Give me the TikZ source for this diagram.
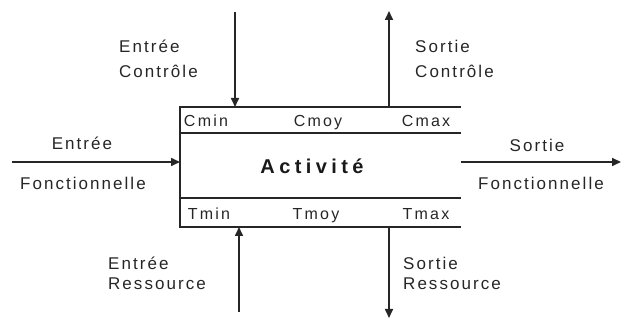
\documentclass[tikz,border=0pt]{standalone}
\usepackage{fontspec}
\setmainfont{Liberation Sans}
\usetikzlibrary{arrows.meta}
\newfontfamily\lblfont{Liberation Sans}[LetterSpace=12]
\newfontfamily\cellfont{Liberation Sans}[LetterSpace=14]
\newfontfamily\actfont{Liberation Sans}[LetterSpace=22]
\begin{document}
\begin{tikzpicture}[x=1pt,y=-1pt,
  lbl/.style={inner sep=0pt,anchor=west,text=black!85,font=\lblfont\fontsize{17}{19}\selectfont},
  clbl/.style={inner sep=0pt,text=black!85,font=\lblfont\fontsize{17}{19}\selectfont},
  cell/.style={inner sep=0pt,anchor=base,text=black!85,font=\cellfont\fontsize{16}{18}\selectfont},
  act/.style={inner sep=0pt,anchor=base,text=black!90,font=\actfont\bfseries\fontsize{20}{22}\selectfont},
  boxline/.style={line width=1.6pt,black!85},
  flow/.style={line width=1.6pt,black!85,-{Triangle[length=9pt,width=8pt]}}]
\useasboundingbox (0,0) rectangle (621,320);
% box
\coordinate (TL) at (180,107);
\coordinate (TR) at (461,107);
\coordinate (BL) at (180,227);
\coordinate (BR) at (461,227);
\coordinate (R1L) at (180,133);
\coordinate (R1R) at (461,133);
\coordinate (R2L) at (180,198);
\coordinate (R2R) at (461,198);
\draw[boxline] (TR) -- (TL) -- (BL) -- (BR);
\draw[boxline] (R1L) -- (R1R);
\draw[boxline] (R2L) -- (R2R);
% cell texts
\node[cell] (cmin) at (206,127) {Cmin};
\node[cell] (cmoy) at (318,127) {Cmoy};
\node[cell] (cmax) at (426,127) {Cmax};
\node[act] (act) at (312,174) {Activité};
\node[cell] (tmin) at (209,220) {Tmin};
\node[cell] (tmoy) at (316,220) {Tmoy};
\node[cell] (tmax) at (426,220) {Tmax};
% arrow endpoints
\coordinate (ecT) at (235,12);
\coordinate (ecB) at (235,107);
\coordinate (scB) at (389,107);
\coordinate (scT) at (389,11);
\coordinate (erB) at (239,312);
\coordinate (erT) at (239,227);
\coordinate (srT) at (389,227);
\coordinate (srB) at (389,318);
\coordinate (efL) at (12,162);
\coordinate (efR) at (180,162);
\coordinate (sfL) at (461,162);
\coordinate (sfR) at (621,162);
\draw[flow] (ecT) -- (ecB);
\draw[flow] (scB) -- (scT);
\draw[flow] (erB) -- (erT);
\draw[flow] (srT) -- (srB);
\draw[flow] (efL) -- (efR);
\draw[flow] (sfL) -- (sfR);
% labels
\node[lbl] (ec1) at (119,46) {Entrée};
\node[lbl] (ec2) at (119,71) {Contrôle};
\node[lbl] (sc1) at (415,46) {Sortie};
\node[lbl] (sc2) at (415,71) {Contrôle};
\node[lbl] (er1) at (108,263) {Entrée};
\node[lbl] (er2) at (108,284) {Ressource};
\node[lbl] (sr1) at (403,263) {Sortie};
\node[lbl] (sr2) at (403,284) {Ressource};
\node[clbl] (ef1) at (82,143) {Entrée};
\node[clbl] (ef2) at (83,183) {Fonctionnelle};
\node[clbl] (sf1) at (537,145) {Sortie};
\node[clbl] (sf2) at (541,183) {Fonctionnelle};
\end{tikzpicture}
\end{document}
